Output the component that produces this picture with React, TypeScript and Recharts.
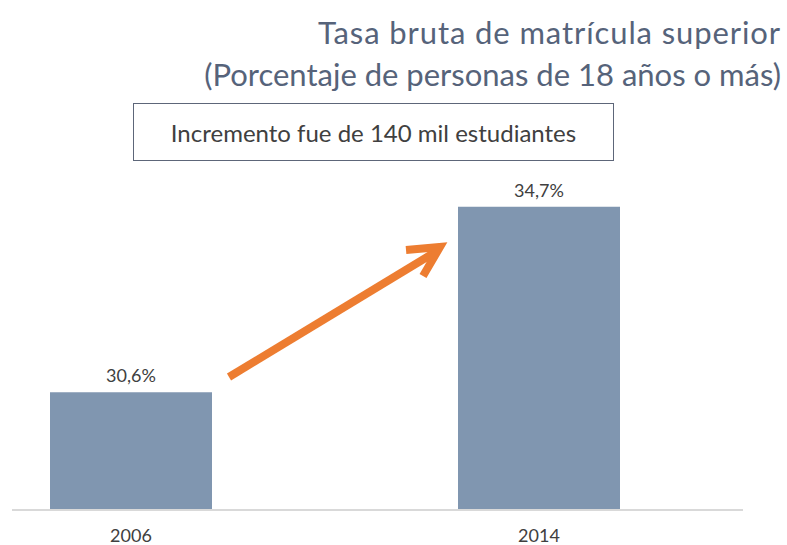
import React from "react";
import { BarChart, Bar, XAxis, YAxis, LabelList } from "recharts";

const years = ["2006", "2014"];
const tasaBruta = [30.6, 34.7];

const data = years.map((year, i) => ({ year, value: tasaBruta[i] }));

const fmt = (v: any) => `${Number(v).toFixed(1).replace(".", ",")}%`;

const FONT = "Lato, 'Open Sans', sans-serif";

const App: React.FC = () => {
  return (
    <div
      style={{
        position: "absolute",
        left: 0,
        top: 0,
        width: 787,
        height: 545,
        background: "#fff",
        fontFamily: FONT,
      }}
    >
      <div
        style={{
          position: "absolute",
          right: 6,
          top: 11,
          textAlign: "right",
          color: "#56637a",
          fontSize: 31,
          lineHeight: "42px",
          whiteSpace: "nowrap",
        }}
      >
        <div style={{ letterSpacing: 0.9 }}>Tasa bruta de matrícula superior</div>
        <div>(Porcentaje de personas de 18 años o más)</div>
      </div>

      <div
        style={{
          position: "absolute",
          left: 133,
          top: 103,
          width: 479,
          height: 56,
          border: "1.5px solid #5d6679",
          display: "flex",
          alignItems: "center",
          justifyContent: "center",
          color: "#404040",
          fontSize: 24,
          whiteSpace: "nowrap",
        }}
      >
        Incremento fue de 140 mil estudiantes
      </div>

      <BarChart
        width={787}
        height={545}
        data={data}
        margin={{ top: 148, right: 44, bottom: 5, left: 12 }}
        style={{ position: "absolute", left: 0, top: 0 }}
      >
        <XAxis
          dataKey="year"
          height={30}
          padding={{ left: -85, right: 0 }}
          axisLine={{ stroke: "#d9d9d9", strokeWidth: 2 }}
          tickLine={false}
          tickMargin={13}
          tick={{ fill: "#404040", fontSize: 18, fontFamily: FONT }}
        />
        <YAxis hide domain={[28, 36]} />
        <Bar dataKey="value" fill="#8096b0" barSize={162} isAnimationActive={false}>
          <LabelList
            dataKey="value"
            position="top"
            offset={10}
            formatter={fmt}
            style={{ fill: "#404040", fontSize: 18, fontFamily: FONT }}
          />
        </Bar>
      </BarChart>

      <svg
        width={787}
        height={545}
        style={{ position: "absolute", left: 0, top: 0, pointerEvents: "none" }}
      >
        <line x1={229} y1={377} x2={437} y2={251} stroke="#ed7d31" strokeWidth={8} />
        <polyline
          points="406,250 440,247 423,276"
          fill="none"
          stroke="#ed7d31"
          strokeWidth={8}
          strokeLinejoin="miter"
        />
      </svg>
    </div>
  );
};

export default App;
